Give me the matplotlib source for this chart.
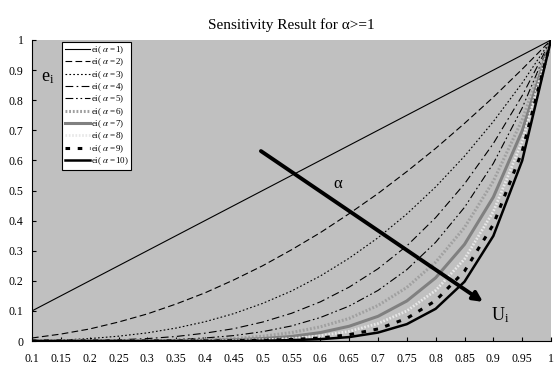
import matplotlib.pyplot as plt

plt.rcParams['font.family'] = ['Liberation Serif', 'DejaVu Serif']
plt.rcParams['mathtext.fontset'] = 'stix'

u = [0.1, 0.15, 0.2, 0.25, 0.3, 0.35, 0.4, 0.45, 0.5, 0.55,
     0.6, 0.65, 0.7, 0.75, 0.8, 0.85, 0.9, 0.95, 1.0]

e1 = [0.1, 0.15, 0.2, 0.25, 0.3, 0.35, 0.4, 0.45, 0.5, 0.55,
      0.6, 0.65, 0.7, 0.75, 0.8, 0.85, 0.9, 0.95, 1.0]
e2 = [0.01, 0.023, 0.04, 0.063, 0.09, 0.123, 0.16, 0.203, 0.25, 0.303,
      0.36, 0.423, 0.49, 0.563, 0.64, 0.723, 0.81, 0.903, 1.0]
e3 = [0.001, 0.003, 0.008, 0.016, 0.027, 0.043, 0.064, 0.091, 0.125, 0.166,
      0.216, 0.275, 0.343, 0.422, 0.512, 0.614, 0.729, 0.857, 1.0]
e4 = [0.0, 0.001, 0.002, 0.004, 0.008, 0.015, 0.026, 0.041, 0.063, 0.092,
      0.13, 0.179, 0.24, 0.316, 0.41, 0.522, 0.656, 0.815, 1.0]
e5 = [0.0, 0.0, 0.0, 0.001, 0.002, 0.005, 0.01, 0.018, 0.031, 0.05,
      0.078, 0.116, 0.168, 0.237, 0.328, 0.444, 0.59, 0.774, 1.0]
e6 = [0.0, 0.0, 0.0, 0.0, 0.001, 0.002, 0.004, 0.008, 0.016, 0.028,
      0.047, 0.075, 0.118, 0.178, 0.262, 0.377, 0.531, 0.735, 1.0]
e7 = [0.0, 0.0, 0.0, 0.0, 0.0, 0.001, 0.002, 0.004, 0.008, 0.015,
      0.028, 0.049, 0.082, 0.133, 0.21, 0.321, 0.478, 0.698, 1.0]
e8 = [0.0, 0.0, 0.0, 0.0, 0.0, 0.0, 0.001, 0.002, 0.004, 0.008,
      0.017, 0.032, 0.058, 0.1, 0.168, 0.272, 0.43, 0.663, 1.0]
e9 = [0.0, 0.0, 0.0, 0.0, 0.0, 0.0, 0.0, 0.001, 0.002, 0.005,
      0.01, 0.021, 0.04, 0.075, 0.134, 0.232, 0.387, 0.63, 1.0]
e10 = [0.0, 0.0, 0.0, 0.0, 0.0, 0.0, 0.0, 0.0, 0.001, 0.003,
       0.006, 0.013, 0.028, 0.056, 0.107, 0.197, 0.349, 0.599, 1.0]

series = [e1, e2, e3, e4, e5, e6, e7, e8, e9, e10]
alphas = [1, 2, 3, 4, 5, 6, 7, 8, 9, 10]

styles = [
    dict(color='black', lw=0.8, ls='-'),
    dict(color='black', lw=0.8, ls=(0, (6, 3))),
    dict(color='black', lw=0.8, ls=(0, (1.5, 2))),
    dict(color='black', lw=0.8, ls=(0, (7, 3, 1.5, 3))),
    dict(color='black', lw=0.8, ls=(0, (7, 2.5, 1.5, 2.5, 1.5, 2.5))),
    dict(color='#a0a0a0', lw=2.2, ls=(0, (0.6, 0.6))),
    dict(color='#808080', lw=2.2, ls='-'),
    dict(color='#e8e8e8', lw=2.0, ls=(0, (0.6, 0.6))),
    dict(color='black', lw=2.2, ls=(0, (1.5, 2.5))),
    dict(color='black', lw=1.8, ls='-'),
]

fig = plt.figure(figsize=(5.54, 3.71), dpi=100)
ax = fig.add_axes([32/554, 1-341/371, 519/554, 301/371])
ax.set_facecolor('#c0c0c0')

for a, e, st in zip(alphas, series, styles):
    ax.plot(u, e, label='ei( $\\alpha$ =%d)' % a, **st)

ax.set_xlim(0.1, 1.0)
ax.set_ylim(0, 1)
ax.set_xticks(u)
ax.set_xticklabels(['0.1', '0.15', '0.2', '0.25', '0.3', '0.35', '0.4', '0.45', '0.5', '0.55',
                    '0.6', '0.65', '0.7', '0.75', '0.8', '0.85', '0.9', '0.95', '1'])
ax.set_yticks([0, 0.1, 0.2, 0.3, 0.4, 0.5, 0.6, 0.7, 0.8, 0.9, 1])
ax.set_yticklabels(['0', '0.1', '0.2', '0.3', '0.4', '0.5', '0.6', '0.7', '0.8', '0.9', '1'])
ax.tick_params(labelsize=8.5, length=3, direction='in')
ax.tick_params(axis='x', pad=9)
ax.tick_params(axis='y', pad=6)
for s in ['top', 'right']:
    ax.spines[s].set_visible(False)

ax.set_title('Sensitivity Result for \u03b1>=1', fontsize=11, pad=8)

leg = ax.legend(loc='upper left', bbox_to_anchor=(0.058, 0.995), fontsize=6.5,
                frameon=True, fancybox=False, edgecolor='black', framealpha=1,
                handlelength=2.8, handletextpad=0.1, labelspacing=0.08,
                borderpad=0.3, borderaxespad=0)
leg.get_frame().set_linewidth(0.8)

ax.annotate('', xy=(0.882, 0.13), xytext=(0.497, 0.631),
            arrowprops=dict(arrowstyle='-|>', color='black', lw=2.8,
                            mutation_scale=14, shrinkA=0, shrinkB=0))
ax.text(0.631, 0.52, '\u03b1', fontsize=12, ha='center', va='center')
ax.text(0.128, 0.875, 'e$_\\mathregular{i}$', fontsize=13, ha='center', va='center')
ax.text(0.912, 0.085, 'U$_\\mathregular{i}$', fontsize=13, ha='center', va='center')

fig.savefig('out.png', dpi=100, facecolor='white')
